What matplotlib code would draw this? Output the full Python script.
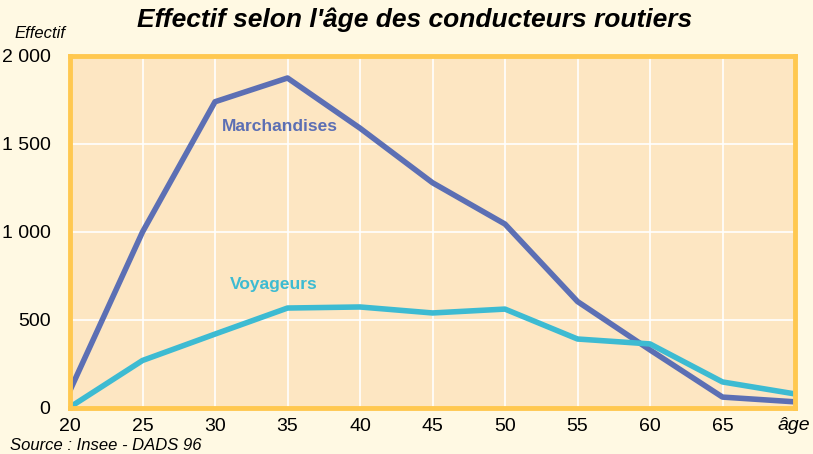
import matplotlib
matplotlib.use("Agg")
import matplotlib.pyplot as plt
from matplotlib import font_manager

ages = [20, 25, 30, 35, 40, 45, 50, 55, 60, 65, 70]
marchandises = [100, 1000, 1740, 1875, 1590, 1280, 1045, 605, 330, 62, 35]
voyageurs = [5, 270, 420, 568, 574, 540, 562, 392, 364, 148, 80]
xtick_vals = [20, 25, 30, 35, 40, 45, 50, 55, 60, 65]
ytick_vals = [0, 500, 1000, 1500, 2000]
ytick_labels = ["0", "500", "1 000", "1 500", "2 000"]

names = {f.name for f in font_manager.fontManager.ttflist}
narrow = "Liberation Sans Narrow" if "Liberation Sans Narrow" in names else "Liberation Sans"
plt.rcParams['font.family'] = [narrow, 'DejaVu Sans']

fig = plt.figure(figsize=(8.13, 4.54), dpi=100, facecolor="#FFF9E3")
ax = fig.add_axes([70/813, 1-408/454, 725/813, 352/454])
ax.set_facecolor("#FDE6C2")
ax.set_xlim(20, 70)
ax.set_ylim(0, 2000)

for x in xtick_vals[1:] + [70]:
    ax.axvline(x, color="white", lw=1.2, zorder=1)
for y in ytick_vals[1:]:
    ax.axhline(y, color="white", lw=1.2, zorder=1)

c_m = "#5C6FB4"
c_v = "#3DBBD2"
ax.plot(ages, marchandises, color=c_m, lw=4, zorder=3, solid_capstyle="butt")
ax.plot(ages, voyageurs, color=c_v, lw=4, zorder=3, solid_capstyle="butt")

ax.text(30.5, 1597, "Marchandises", color=c_m, fontsize=12.5, fontweight="bold", va="center")
ax.text(31.0, 699, "Voyageurs", color=c_v, fontsize=12.5, fontweight="bold", va="center")

for s in ax.spines.values():
    s.set_color("#FFC850")
    s.set_linewidth(3.5)
    s.set_zorder(4)

ax.set_xticks(xtick_vals)
ax.set_xticklabels([str(v) for v in xtick_vals], fontsize=14)
ax.set_yticks(ytick_vals)
ax.set_yticklabels(ytick_labels, fontsize=14)
ax.tick_params(axis="x", length=0, pad=7)
ax.tick_params(axis="y", length=0, pad=14)

fig.text(813/813 - 0.003, 1-426/454, "âge", fontsize=14, style="italic", ha="right", va="center")
fig.text(14/813, 1-33/454, "Effectif", fontsize=12, style="italic", ha="left", va="center")
fig.text(10/813, 1-445/454, "Source : Insee - DADS 96", fontsize=12, style="italic", ha="left", va="center")
fig.text(415/813, 1-20/454, "Effectif selon l'âge des conducteurs routiers",
         fontsize=19, fontweight="bold", style="italic", ha="center", va="center")

fig.savefig("out.png", dpi=100, facecolor=fig.get_facecolor())
